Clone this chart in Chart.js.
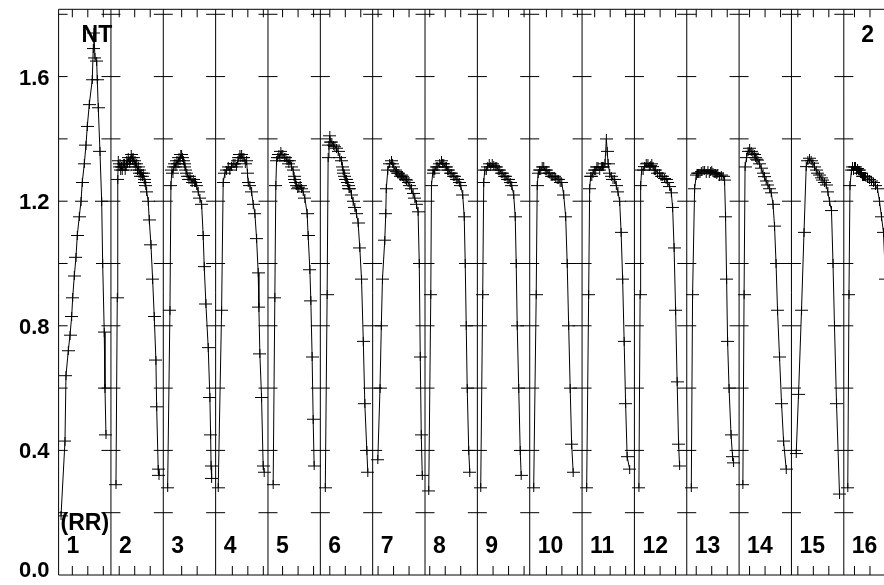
<!DOCTYPE html>
<html>
<head>
<meta charset="utf-8">
<script src="https://cdn.jsdelivr.net/npm/chart.js@4.4.1/dist/chart.umd.min.js"></script>
<style>
  html, body { margin: 0; padding: 0; background: #fff; overflow: hidden; }
  #wrap { position: relative; width: 884px; height: 585px; }
</style>
</head>
<body>
<div id="wrap"><canvas id="chart"></canvas></div>
<script>
// one array per beat: [x in beat units, value]
const beat01 = [[0.046,0.19],[0.122,0.43],[0.141,0.64],[0.185,0.72],[0.218,0.77],[0.250,0.83],[0.269,0.89],[0.300,0.96],[0.332,1.02],[0.357,1.09],[0.395,1.15],[0.428,1.20],[0.452,1.26],[0.491,1.32],[0.523,1.38],[0.548,1.44],[0.586,1.51],[0.643,1.59],[0.662,1.69],[0.674,1.74],[0.695,1.66],[0.727,1.65],[0.739,1.59],[0.758,1.50],[0.790,1.36],[0.823,1.20],[0.842,1.00],[0.872,0.78],[0.886,0.60],[0.905,0.45]];
const beat02 = [[1.096,0.29],[1.121,0.89],[1.130,1.27],[1.140,1.33],[1.156,1.31],[1.172,1.32],[1.186,1.30],[1.201,1.31],[1.215,1.30],[1.229,1.31],[1.244,1.32],[1.258,1.32],[1.272,1.30],[1.287,1.31],[1.301,1.33],[1.315,1.32],[1.330,1.34],[1.344,1.33],[1.358,1.32],[1.373,1.33],[1.387,1.35],[1.401,1.34],[1.414,1.33],[1.426,1.34],[1.443,1.32],[1.459,1.33],[1.475,1.31],[1.491,1.32],[1.507,1.30],[1.522,1.31],[1.538,1.29],[1.554,1.30],[1.570,1.28],[1.586,1.29],[1.602,1.28],[1.617,1.29],[1.633,1.27],[1.649,1.26],[1.666,1.25],[1.682,1.23],[1.712,1.20],[1.732,1.14],[1.764,1.06],[1.796,0.95],[1.827,0.83],[1.859,0.69],[1.873,0.54],[1.903,0.34],[1.917,0.32]];
const beat03 = [[2.083,0.28],[2.127,0.85],[2.146,1.25],[2.165,1.30],[2.184,1.29],[2.203,1.31],[2.222,1.32],[2.241,1.31],[2.260,1.33],[2.280,1.32],[2.299,1.34],[2.318,1.33],[2.334,1.35],[2.350,1.35],[2.367,1.34],[2.384,1.33],[2.399,1.32],[2.413,1.31],[2.432,1.30],[2.451,1.29],[2.470,1.28],[2.490,1.27],[2.509,1.28],[2.528,1.27],[2.550,1.26],[2.572,1.27],[2.594,1.26],[2.615,1.26],[2.637,1.25],[2.667,1.23],[2.699,1.21],[2.732,1.19],[2.762,1.09],[2.782,0.99],[2.814,0.87],[2.858,0.73],[2.890,0.57],[2.904,0.45],[2.913,0.35],[2.923,0.31]];
const beat04 = [[3.049,0.28],[3.114,0.85],[3.144,1.26],[3.177,1.29],[3.208,1.30],[3.240,1.31],[3.270,1.30],[3.301,1.31],[3.335,1.32],[3.368,1.32],[3.397,1.31],[3.425,1.33],[3.444,1.34],[3.463,1.35],[3.480,1.34],[3.496,1.35],[3.518,1.34],[3.540,1.34],[3.566,1.32],[3.591,1.33],[3.608,1.29],[3.622,1.26],[3.654,1.25],[3.687,1.23],[3.718,1.19],[3.750,1.16],[3.782,1.08],[3.813,0.97],[3.826,0.86],[3.845,0.71],[3.877,0.57],[3.908,0.35],[3.927,0.33]];
const beat05 = [[4.099,0.29],[4.131,0.89],[4.150,1.25],[4.164,1.33],[4.186,1.34],[4.208,1.35],[4.227,1.34],[4.246,1.36],[4.265,1.35],[4.284,1.35],[4.312,1.34],[4.341,1.34],[4.360,1.33],[4.380,1.33],[4.399,1.32],[4.418,1.33],[4.450,1.31],[4.481,1.30],[4.497,1.28],[4.513,1.27],[4.530,1.26],[4.546,1.25],[4.568,1.24],[4.590,1.245],[4.615,1.25],[4.641,1.24],[4.672,1.23],[4.704,1.21],[4.748,1.16],[4.767,1.09],[4.800,0.98],[4.819,0.88],[4.843,0.70],[4.863,0.50],[4.882,0.35]];
const beat06 = [[5.095,0.28],[5.130,0.90],[5.149,1.34],[5.165,1.38],[5.181,1.41],[5.200,1.39],[5.220,1.39],[5.248,1.38],[5.277,1.375],[5.308,1.37],[5.340,1.36],[5.372,1.34],[5.405,1.33],[5.420,1.31],[5.435,1.30],[5.452,1.29],[5.468,1.28],[5.484,1.27],[5.500,1.27],[5.516,1.26],[5.531,1.25],[5.547,1.24],[5.563,1.24],[5.595,1.22],[5.626,1.20],[5.659,1.18],[5.690,1.16],[5.722,1.13],[5.754,1.05],[5.787,0.95],[5.821,0.75],[5.850,0.55],[5.888,0.40],[5.907,0.33]];
const beat07 = [[6.098,0.37],[6.140,0.60],[6.165,0.80],[6.187,0.95],[6.231,1.075],[6.250,1.16],[6.260,1.24],[6.289,1.30],[6.324,1.32],[6.359,1.33],[6.381,1.32],[6.403,1.31],[6.430,1.30],[6.455,1.295],[6.477,1.29],[6.499,1.29],[6.525,1.28],[6.550,1.284],[6.572,1.28],[6.594,1.275],[6.620,1.27],[6.646,1.268],[6.677,1.26],[6.709,1.25],[6.740,1.24],[6.772,1.225],[6.804,1.21],[6.836,1.19],[6.867,1.166],[6.890,1.00],[6.909,0.70],[6.928,0.45],[6.947,0.32]];
const beat08 = [[7.071,0.27],[7.110,0.90],[7.123,1.25],[7.153,1.30],[7.170,1.29],[7.186,1.30],[7.214,1.31],[7.243,1.31],[7.280,1.32],[7.314,1.33],[7.336,1.32],[7.358,1.32],[7.384,1.31],[7.409,1.31],[7.431,1.30],[7.453,1.30],[7.480,1.29],[7.510,1.29],[7.540,1.28],[7.568,1.28],[7.597,1.27],[7.625,1.27],[7.654,1.26],[7.682,1.25],[7.720,1.22],[7.749,1.15],[7.768,1.00],[7.787,0.80],[7.806,0.60],[7.835,0.40],[7.854,0.33]];
const beat09 = [[8.064,0.28],[8.102,0.90],[8.121,1.26],[8.141,1.30],[8.170,1.30],[8.198,1.31],[8.226,1.32],[8.255,1.31],[8.284,1.32],[8.312,1.315],[8.341,1.31],[8.370,1.31],[8.398,1.30],[8.427,1.30],[8.456,1.29],[8.484,1.29],[8.513,1.28],[8.541,1.28],[8.570,1.27],[8.599,1.27],[8.628,1.26],[8.656,1.25],[8.694,1.22],[8.723,1.15],[8.742,1.00],[8.761,0.80],[8.790,0.60],[8.818,0.40],[8.837,0.32]];
const beat10 = [[9.076,0.28],[9.124,0.90],[9.143,1.25],[9.162,1.29],[9.186,1.30],[9.210,1.30],[9.238,1.31],[9.267,1.31],[9.296,1.30],[9.324,1.30],[9.353,1.29],[9.381,1.29],[9.410,1.28],[9.439,1.28],[9.467,1.28],[9.496,1.275],[9.524,1.27],[9.553,1.27],[9.582,1.26],[9.611,1.26],[9.649,1.22],[9.687,1.15],[9.716,1.00],[9.744,0.80],[9.773,0.60],[9.801,0.42],[9.830,0.33]];
const beat11 = [[10.088,0.28],[10.126,0.90],[10.145,1.24],[10.164,1.28],[10.186,1.28],[10.208,1.29],[10.234,1.30],[10.260,1.30],[10.282,1.31],[10.304,1.31],[10.336,1.30],[10.368,1.31],[10.390,1.31],[10.412,1.31],[10.438,1.32],[10.464,1.40],[10.480,1.36],[10.498,1.32],[10.527,1.29],[10.559,1.28],[10.590,1.27],[10.622,1.27],[10.654,1.25],[10.685,1.23],[10.718,1.20],[10.746,1.10],[10.775,0.95],[10.804,0.75],[10.832,0.55],[10.861,0.38],[10.909,0.34]];
const beat12 = [[11.086,0.28],[11.109,0.90],[11.119,1.25],[11.138,1.30],[11.166,1.30],[11.195,1.311],[11.226,1.32],[11.258,1.322],[11.284,1.31],[11.310,1.315],[11.332,1.32],[11.354,1.311],[11.380,1.30],[11.405,1.30],[11.443,1.29],[11.481,1.29],[11.510,1.28],[11.539,1.28],[11.577,1.273],[11.605,1.27],[11.634,1.26],[11.672,1.247],[11.705,1.227],[11.730,1.18],[11.758,1.05],[11.787,0.85],[11.816,0.62],[11.844,0.42],[11.863,0.35]];
const beat13 = [[12.087,0.28],[12.111,0.90],[12.150,1.24],[12.182,1.284],[12.204,1.29],[12.226,1.29],[12.252,1.29],[12.278,1.295],[12.310,1.30],[12.341,1.30],[12.372,1.29],[12.404,1.298],[12.430,1.29],[12.455,1.295],[12.477,1.30],[12.499,1.292],[12.525,1.29],[12.551,1.29],[12.572,1.285],[12.594,1.29],[12.626,1.28],[12.659,1.284],[12.694,1.28],[12.722,1.268],[12.741,1.15],[12.761,0.95],[12.780,0.75],[12.808,0.60],[12.846,0.45],[12.875,0.38],[12.894,0.36]];
const beat14 = [[13.072,0.29],[13.095,0.90],[13.114,1.31],[13.142,1.34],[13.171,1.36],[13.200,1.37],[13.232,1.36],[13.263,1.354],[13.290,1.35],[13.314,1.34],[13.336,1.335],[13.358,1.332],[13.391,1.32],[13.423,1.306],[13.457,1.29],[13.486,1.279],[13.515,1.265],[13.549,1.252],[13.582,1.24],[13.614,1.227],[13.648,1.19],[13.677,1.12],[13.706,1.00],[13.734,0.85],[13.772,0.70],[13.811,0.55],[13.849,0.43],[13.900,0.34]];
const beat15 = [[14.091,0.39],[14.135,0.58],[14.192,0.85],[14.240,1.10],[14.282,1.311],[14.313,1.33],[14.345,1.338],[14.376,1.33],[14.408,1.322],[14.440,1.31],[14.473,1.30],[14.505,1.29],[14.536,1.284],[14.568,1.275],[14.599,1.268],[14.632,1.26],[14.664,1.252],[14.695,1.23],[14.727,1.20],[14.765,1.17],[14.794,1.00],[14.822,0.80],[14.861,0.55],[14.918,0.26]];
const beat16 = [[15.076,0.28],[15.099,0.90],[15.118,1.25],[15.147,1.30],[15.166,1.31],[15.185,1.30],[15.204,1.31],[15.223,1.31],[15.243,1.30],[15.262,1.305],[15.281,1.30],[15.300,1.30],[15.319,1.29],[15.338,1.29],[15.357,1.28],[15.376,1.28],[15.395,1.28],[15.414,1.28],[15.452,1.275],[15.491,1.27],[15.529,1.265],[15.567,1.26],[15.605,1.25],[15.643,1.24],[15.682,1.20],[15.720,1.15],[15.758,1.10],[15.796,0.95]];

const beats = [beat01, beat02, beat03, beat04, beat05, beat06, beat07, beat08,
               beat09, beat10, beat11, beat12, beat13, beat14, beat15, beat16];
const beatLabels = ["1","2","3","4","5","6","7","8","9","10","11","12","13","14","15","16"];
const yTickLabels = [0, 0.4, 0.8, 1.2, 1.6];
const gridMarks = [0.2, 0.4, 0.6, 0.8, 1.0, 1.2, 1.4, 1.6, 1.8];
// first small time tick inside each beat (beat units), then every 0.296
const tickStart = [0.262,0.158,0.351,0.319,0.279,0.181,0.103,0.090,0.300,0.319,0.241,0.195,0.181,0.200,0.122,0.204];

const FONT = "'Liberation Sans', Arial, sans-serif";

function makeCross(w, h) {
    const c = document.createElement("canvas");
    c.width = w; c.height = h;
    const g = c.getContext("2d");
    g.strokeStyle = "#000";
    g.lineWidth = 1;
    g.beginPath();
    g.moveTo(0, h / 2); g.lineTo(w, h / 2);
    g.moveTo(w / 2, 0); g.lineTo(w / 2, h);
    g.stroke();
    return c;
}
const cross = makeCross(13, 9);

/* frame, separators, little marks and the texts */
const framePlugin = {
    id: "frame",
    beforeDatasetsDraw(chart) {
        const { ctx, chartArea: a, scales: { x, y } } = chart;
        ctx.save();
        ctx.strokeStyle = "#000";
        ctx.lineWidth = 1;
        ctx.beginPath();
        ctx.moveTo(a.right, a.top); ctx.lineTo(a.left, a.top);
        ctx.lineTo(a.left, a.bottom); ctx.lineTo(a.right, a.bottom);
        for (let i = 1; i < beatLabels.length; i++) {
            const px = x.getPixelForValue(i);
            ctx.moveTo(px, a.top); ctx.lineTo(px, a.bottom);
        }
        gridMarks.forEach(v => {
            const py = y.getPixelForValue(v);
            ctx.moveTo(a.left, py); ctx.lineTo(a.left + 9, py);
            for (let i = 1; i < beatLabels.length; i++) {
                const px = x.getPixelForValue(i);
                ctx.moveTo(px - 9.5, py); ctx.lineTo(px + 9.5, py);
            }
        });
        tickStart.forEach((t0, i) => {
            for (let t = t0; t < 0.93; t += 0.296) {
                const px = x.getPixelForValue(i + t);
                ctx.moveTo(px, a.bottom); ctx.lineTo(px, a.bottom - 9);
                ctx.moveTo(px, a.top); ctx.lineTo(px, a.top + 8);
            }
        });
        ctx.stroke();

        // y axis labels
        ctx.fillStyle = "#000";
        ctx.font = "bold 22px " + FONT;
        ctx.textAlign = "right";
        ctx.textBaseline = "middle";
        yTickLabels.forEach(v => {
            const py = Math.min(y.getPixelForValue(v) + 2, a.bottom - 4);
            ctx.fillText(v.toFixed(1), a.left - 9, py);
        });
        ctx.restore();
    },
    afterDatasetsDraw(chart) {
        const { ctx, chartArea: a, scales: { x } } = chart;
        ctx.save();
        ctx.fillStyle = "#000";
        ctx.font = "bold 23px " + FONT;
        ctx.textBaseline = "alphabetic";
        ctx.textAlign = "left";
        ctx.fillText("NT", a.left + 23, a.top + 33);
        ctx.fillText("(RR)", x.getPixelForValue(0) + 2, a.bottom - 45);
        beatLabels.forEach((lab, i) => {
            ctx.fillText(lab, x.getPixelForValue(i) + 8, a.bottom - 22);
        });
        ctx.textAlign = "right";
        ctx.fillText("2", a.right - 10, a.top + 33);
        ctx.restore();
    }
};

new Chart(document.getElementById("chart"), {
    type: "scatter",
    data: {
        datasets: beats.map(b => ({
            data: b.map(([x, y]) => ({ x, y })),
            showLine: true,
            borderColor: "#000",
            borderWidth: 1,
            tension: 0,
            pointStyle: cross,
            pointRadius: 4,
            pointHoverRadius: 4
        }))
    },
    options: {
        responsive: true,
        maintainAspectRatio: false,
        animation: false,
        events: [],
        layout: { autoPadding: false, padding: { left: 58.6, top: 9.3, bottom: 10, right: 0 } },
        plugins: { legend: { display: false }, tooltip: { enabled: false } },
        scales: {
            x: { type: "linear", display: false, min: 0, max: 15.768 },
            y: { type: "linear", display: false, min: 0, max: 1.816 }
        }
    },
    plugins: [framePlugin]
});
</script>
</body>
</html>
